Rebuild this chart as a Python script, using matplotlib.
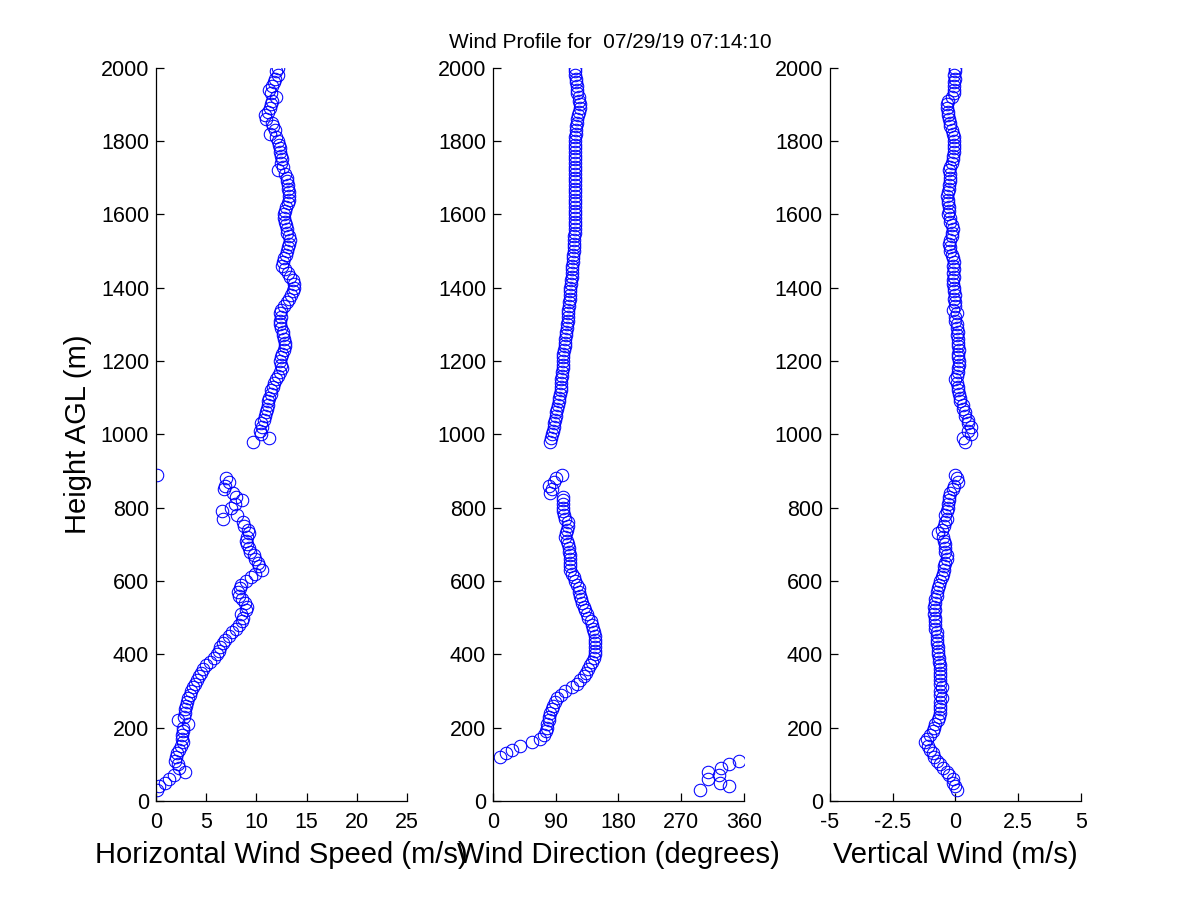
import matplotlib
matplotlib.use("Agg")
import matplotlib.pyplot as plt

# === Data (range gates, m AGL) ===
height_low = [30, 40, 50, 60, 70, 80, 90, 100, 110, 120,
              130, 140, 150, 160, 170, 180, 190, 200, 210, 220,
              230, 240, 250, 260, 270, 280, 290, 300, 310, 320,
              330, 340, 350, 360, 370, 380, 390, 400, 410, 420,
              430, 440, 450, 460, 470, 480, 490, 500, 510, 520,
              530, 540, 550, 560, 570, 580, 590, 600, 610, 620,
              630, 640, 650, 660, 670, 680, 690, 700, 710, 720,
              730, 740, 750, 760, 770, 780, 790, 800, 810, 820,
              830, 840, 850, 860, 870, 880, 890]
height_high = [980, 990, 1000, 1010, 1020, 1030, 1040, 1050, 1060, 1070,
               1080, 1090, 1100, 1110, 1120, 1130, 1140, 1150, 1160, 1170,
               1180, 1190, 1200, 1210, 1220, 1230, 1240, 1250, 1260, 1270,
               1280, 1290, 1300, 1310, 1320, 1330, 1340, 1350, 1360, 1370,
               1380, 1390, 1400, 1410, 1420, 1430, 1440, 1450, 1460, 1470,
               1480, 1490, 1500, 1510, 1520, 1530, 1540, 1550, 1560, 1570,
               1580, 1590, 1600, 1610, 1620, 1630, 1640, 1650, 1660, 1670,
               1680, 1690, 1700, 1710, 1720, 1730, 1740, 1750, 1760, 1770,
               1780, 1790, 1800, 1810, 1820, 1830, 1840, 1850, 1860, 1870,
               1880, 1890, 1900, 1910, 1920, 1930, 1940, 1950, 1960, 1970,
               1980, 1990, 2000]

# horizontal wind speed (m/s)
speed_low = [0.1, 0.3, 0.9, 1.3, 1.8, 2.9, 2.3, 2.2, 1.9, 2.0,
             2.1, 2.3, 2.5, 2.7, 2.6, 2.6, 2.7, 2.7, 3.2, 2.2,
             2.8, 2.9, 2.9, 3.0, 3.1, 3.2, 3.4, 3.5, 3.7, 3.9,
             4.1, 4.3, 4.5, 4.7, 5.0, 5.4, 5.8, 6.1, 6.3, 6.4,
             6.7, 6.9, 7.3, 7.6, 8.0, 8.3, 8.6, 8.7, 8.5, 9.0,
             9.1, 8.9, 8.6, 8.3, 8.2, 8.4, 8.5, 9.0, 9.5, 9.9,
             10.6, 10.3, 10.2, 9.9, 9.8, 9.4, 9.3, 9.1, 9.0, 9.1,
             9.3, 9.2, 8.8, 8.7, 6.7, 8.1, 6.6, 7.5, 7.9, 8.6,
             8.0, 7.7, 6.8, 6.9, 7.3, 7.0, 0.1]
speed_high = [9.7, 11.3, 10.5, 10.4, 10.6, 10.5, 10.8, 10.9, 11.0, 11.1,
              11.2, 11.2, 11.3, 11.5, 11.5, 11.7, 11.8, 12.0, 12.1, 12.3,
              12.5, 12.4, 12.3, 12.4, 12.5, 12.7, 12.8, 12.8, 12.7, 12.6,
              12.6, 12.4, 12.3, 12.3, 12.4, 12.3, 12.4, 12.7, 13.0, 13.2,
              13.4, 13.6, 13.7, 13.7, 13.6, 13.3, 13.1, 12.8, 12.5, 12.6,
              12.7, 12.9, 13.0, 13.1, 13.2, 13.3, 13.2, 13.0, 13.0, 12.9,
              12.8, 12.7, 12.7, 12.8, 12.9, 13.1, 13.2, 13.2, 13.2, 13.1,
              13.1, 13.0, 13.0, 12.8, 12.1, 12.6, 12.4, 12.5, 12.4, 12.3,
              12.3, 12.2, 12.1, 12.0, 11.4, 11.9, 11.7, 11.6, 11.0, 10.9,
              11.2, 11.4, 11.5, 11.6, 12.0, 11.5, 11.3, 11.6, 11.8, 11.9,
              12.1, 12.0, 12.1]

# wind direction (degrees)
dir_low = [297, 338, 325, 309, 324, 309, 327, 338, 353, 10,
           18, 27, 39, 56, 68, 73, 76, 77, 78, 80,
           80, 82, 84, 86, 89, 92, 97, 104, 113, 120,
           125, 130, 133, 136, 139, 142, 145, 146, 147, 147,
           147, 147, 146, 145, 144, 142, 140, 137, 135, 132,
           130, 128, 126, 125, 124, 123, 120, 118, 116, 113,
           111, 110, 110, 110, 110, 109, 109, 108, 106, 104,
           105, 106, 107, 107, 104, 102, 101, 101, 100, 101,
           101, 82, 84, 80, 87, 90, 99]
dir_high = [82, 83, 85, 86, 87, 88, 89, 90, 91, 92,
            93, 94, 95, 96, 97, 97, 98, 98, 99, 99,
            100, 100, 100, 101, 101, 102, 103, 103, 104, 105,
            105, 106, 106, 107, 107, 108, 108, 109, 109, 110,
            110, 111, 111, 112, 112, 113, 113, 114, 114, 115,
            115, 115, 116, 116, 116, 116, 116, 117, 117, 117,
            117, 118, 118, 118, 118, 118, 118, 118, 118, 118,
            118, 118, 118, 118, 118, 118, 118, 118, 118, 118,
            118, 118, 118, 118, 119, 119, 119, 120, 121, 122,
            124, 125, 125, 124, 123, 121, 120, 120, 119, 119,
            118, 118, 118]

# vertical wind (m/s)
w_low = [0.05, 0.0, -0.1, -0.1, -0.25, -0.35, -0.5, -0.6, -0.75, -0.85,
         -0.9, -1.0, -1.1, -1.2, -1.15, -1.0, -0.9, -0.85, -0.8, -0.7,
         -0.65, -0.6, -0.6, -0.6, -0.6, -0.55, -0.6, -0.6, -0.55, -0.6,
         -0.6, -0.6, -0.6, -0.6, -0.6, -0.65, -0.65, -0.7, -0.7, -0.7,
         -0.75, -0.75, -0.75, -0.75, -0.8, -0.8, -0.8, -0.8, -0.85, -0.8,
         -0.85, -0.8, -0.8, -0.75, -0.75, -0.7, -0.65, -0.6, -0.55, -0.5,
         -0.45, -0.45, -0.4, -0.35, -0.35, -0.4, -0.4, -0.4, -0.45, -0.5,
         -0.7, -0.55, -0.45, -0.4, -0.35, -0.4, -0.35, -0.3, -0.3, -0.25,
         -0.25, -0.2, -0.1, -0.05, 0.1, 0.05, 0.0]
w_high = [0.4, 0.3, 0.6, 0.5, 0.6, 0.5, 0.5, 0.4, 0.4, 0.3,
          0.3, 0.2, 0.2, 0.15, 0.1, 0.1, 0.05, 0.0, 0.05, 0.1,
          0.1, 0.15, 0.15, 0.1, 0.1, 0.15, 0.1, 0.1, 0.1, 0.05,
          0.1, 0.05, 0.05, 0.0, 0.0, 0.05, -0.1, 0.0, 0.0, -0.05,
          0.0, -0.05, -0.05, -0.1, -0.1, -0.05, -0.1, -0.05, -0.1, -0.05,
          -0.1, -0.15, -0.2, -0.2, -0.25, -0.2, -0.15, -0.15, -0.1, -0.15,
          -0.2, -0.2, -0.3, -0.25, -0.25, -0.3, -0.3, -0.35, -0.3, -0.25,
          -0.25, -0.2, -0.2, -0.2, -0.25, -0.2, -0.15, -0.1, -0.1, -0.05,
          -0.05, -0.05, -0.05, -0.05, -0.1, -0.15, -0.2, -0.2, -0.25, -0.3,
          -0.3, -0.35, -0.35, -0.3, -0.15, -0.05, -0.05, -0.05, -0.05, 0.0,
          -0.05, 0.0, 0.0]

heights = height_low + height_high
speed = speed_low + speed_high
direction = dir_low + dir_high
vertical = w_low + w_high

speed_ticks = [0, 5, 10, 15, 20, 25]
dir_ticks = [0, 90, 180, 270, 360]
w_ticks = [-5, -2.5, 0, 2.5, 5]
w_tick_labels = ["-5", "-2.5", "0", "2.5", "5"]
height_ticks = [0, 200, 400, 600, 800, 1000, 1200, 1400, 1600, 1800, 2000]

title = "Wind Profile for  07/29/19 07:14:10"

# === Plot ===
plt.rcParams['font.family'] = ['Liberation Sans', 'DejaVu Sans']
plt.rcParams['axes.unicode_minus'] = False

fig = plt.figure(figsize=(12, 9), dpi=100)

panels = [
    (0.13, speed, (0, 25), speed_ticks, None, "Horizontal Wind Speed (m/s)"),
    (0.4108, direction, (0, 360), dir_ticks, None, "Wind Direction (degrees)"),
    (0.6916, vertical, (-5, 5), w_ticks, w_tick_labels, "Vertical Wind (m/s)"),
]

axes = []
for left, xvals, xlim, xticks, xlabels, xlabel in panels:
    ax = fig.add_axes([left, 0.11, 0.2092, 0.815])
    ax.plot(xvals, heights, 'o', mfc='none', mec='blue', ms=9, mew=0.75,
            linestyle='none')
    ax.set_xlim(*xlim)
    ax.set_ylim(0, 2000)
    ax.set_xticks(xticks)
    if xlabels:
        ax.set_xticklabels(xlabels)
    ax.set_yticks(height_ticks)
    for side in ['top', 'right']:
        ax.spines[side].set_visible(False)
    for side in ['left', 'bottom']:
        ax.spines[side].set_linewidth(0.9)
    ax.tick_params(direction='in', length=6, width=0.9, labelsize=15.5)
    ax.tick_params(axis='x', pad=8)
    ax.tick_params(axis='y', pad=5)
    ax.set_xlabel(xlabel, fontsize=21, labelpad=6)
    axes.append(ax)

axes[0].set_ylabel("Height AGL (m)", fontsize=21, labelpad=6)
# title sits a little left of the middle panel's centre, as in the original
fig.text(0.509, 0.953, title, fontsize=15, ha='center', va='center')

plt.savefig("out.png", dpi=100)
